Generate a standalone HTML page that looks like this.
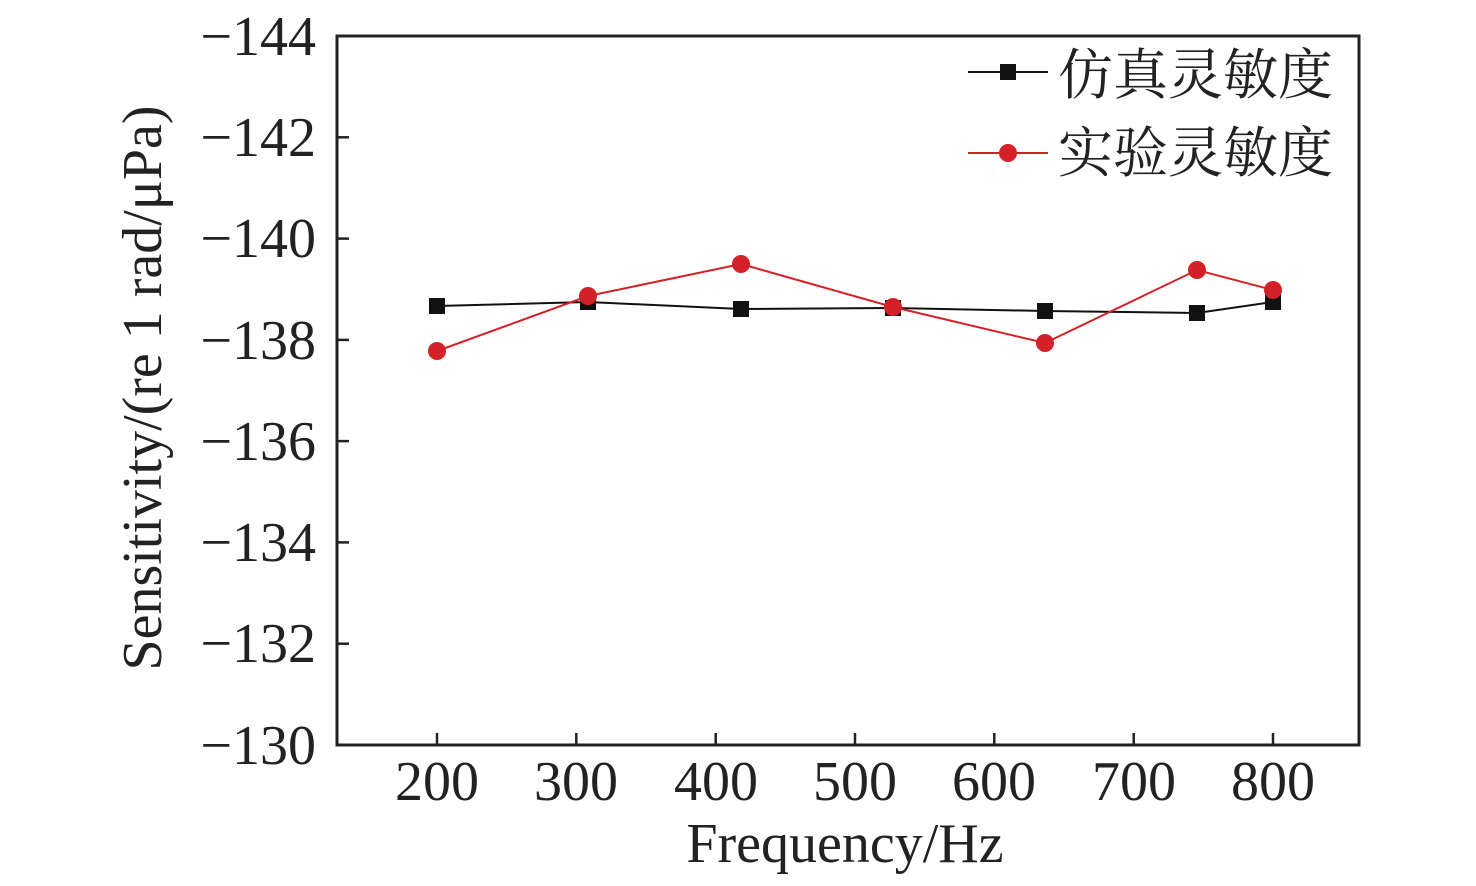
<!DOCTYPE html>
<html><head><meta charset="utf-8"><style>
html,body{margin:0;padding:0;background:#fff;}
svg{display:block;}
text{font-family:"Liberation Serif","Noto Serif CJK SC",serif;fill:#222;}
</style></head><body>
<svg width="1476" height="886" viewBox="0 0 1476 886" xmlns="http://www.w3.org/2000/svg">
<rect x="337" y="36" width="1022" height="709" fill="none" stroke="#222" stroke-width="3"/>
<g stroke="#222" stroke-width="2.5">
<line x1="337" y1="137.3" x2="349" y2="137.3"/>
<line x1="337" y1="238.6" x2="349" y2="238.6"/>
<line x1="337" y1="339.9" x2="349" y2="339.9"/>
<line x1="337" y1="441.1" x2="349" y2="441.1"/>
<line x1="337" y1="542.4" x2="349" y2="542.4"/>
<line x1="337" y1="643.7" x2="349" y2="643.7"/>
<line x1="437" y1="745" x2="437" y2="733"/>
<line x1="576.3" y1="745" x2="576.3" y2="733"/>
<line x1="715.7" y1="745" x2="715.7" y2="733"/>
<line x1="855" y1="745" x2="855" y2="733"/>
<line x1="994.3" y1="745" x2="994.3" y2="733"/>
<line x1="1133.7" y1="745" x2="1133.7" y2="733"/>
<line x1="1273" y1="745" x2="1273" y2="733"/>
</g>
<g font-size="56" text-anchor="end">
<text x="316" y="55">−144</text>
<text x="316" y="156">−142</text>
<text x="316" y="257">−140</text>
<text x="316" y="359">−138</text>
<text x="316" y="460">−136</text>
<text x="316" y="561">−134</text>
<text x="316" y="662">−132</text>
<text x="316" y="764">−130</text>
</g>
<g font-size="56" text-anchor="middle">
<text x="437" y="800">200</text>
<text x="576" y="800">300</text>
<text x="716" y="800">400</text>
<text x="855" y="800">500</text>
<text x="994" y="800">600</text>
<text x="1134" y="800">700</text>
<text x="1273" y="800">800</text>
<text x="845" y="862">Frequency/Hz</text>
<text transform="translate(161,388) rotate(-90)">Sensitivity/(re 1 rad/μPa)</text>
</g>
<polyline fill="none" stroke="#111" stroke-width="2" points="437,306 588,302 741,309 893,308 1045,311 1197,313 1273,302"/>
<g fill="#111">
<rect x="429" y="298" width="16" height="16"/><rect x="580" y="294" width="16" height="16"/>
<rect x="733" y="301" width="16" height="16"/><rect x="885" y="300" width="16" height="16"/>
<rect x="1037" y="303" width="16" height="16"/><rect x="1189" y="305" width="16" height="16"/>
<rect x="1265" y="294" width="16" height="16"/>
</g>
<polyline fill="none" stroke="#d42027" stroke-width="2" points="437,351 588,296 741,264 893,307 1045,343 1197,270 1273,290"/>
<g fill="#d42027">
<circle cx="437" cy="351" r="9"/><circle cx="588" cy="296" r="9"/><circle cx="741" cy="264" r="9"/>
<circle cx="893" cy="307" r="9"/><circle cx="1045" cy="343" r="9"/><circle cx="1197" cy="270" r="9"/>
<circle cx="1273" cy="290" r="9"/>
</g>
<line x1="968" y1="72" x2="1048" y2="72" stroke="#111" stroke-width="2"/>
<rect x="1000" y="64" width="16" height="16" fill="#111"/>
<line x1="968" y1="153" x2="1048" y2="153" stroke="#d42027" stroke-width="2"/>
<circle cx="1008" cy="153" r="9" fill="#d42027"/>
<g font-size="55">
<text x="1058" y="94">仿真灵敏度</text>
<text x="1058" y="172">实验灵敏度</text>
</g>
</svg>
</body></html>
